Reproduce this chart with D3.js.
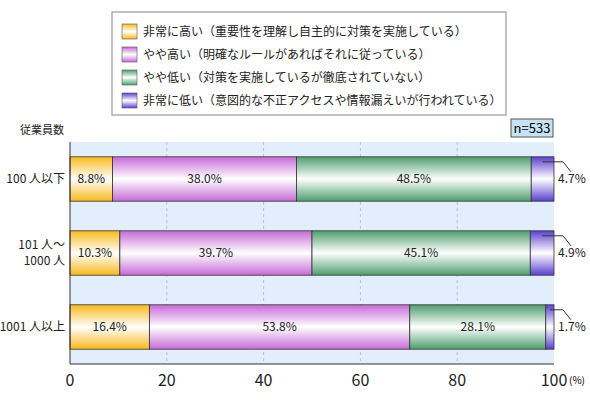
<!DOCTYPE html><html><head><meta charset="utf-8"><script src="https://cdn.jsdelivr.net/npm/d3@7"></script>
<style>body{margin:0;background:#fff}text{font-family:"Noto Sans CJK JP","Noto Sans",sans-serif}</style></head><body><svg id="c" width="590" height="400"></svg><script>
const categories=[["100 人以下"],["101 人～","1000 人"],["1001 人以上"]];
const seriesNames=["非常に高い（重要性を理解し自主的に対策を実施している）","やや高い（明確なルールがあればそれに従っている）","やや低い（対策を実施しているが徹底されていない）","非常に低い（意図的な不正アクセスや情報漏えいが行われている）"];
const s1=[8.8,10.3,16.4],s2=[38.0,39.7,53.8],s3=[48.5,45.1,28.1],s4=[4.7,4.9,1.7];
const ticks=[0,20,40,60,80,100];
const colors=["#f7b91c","#c66ad6","#4f9e6e","#5a3fd0"];
const svg=d3.select("#c");
const defs=svg.append("defs");
colors.forEach((c,i)=>{const g=defs.append("linearGradient").attr("id","g"+i).attr("x1",0).attr("y1",0).attr("x2",0).attr("y2",1);
g.append("stop").attr("offset","0%").attr("stop-color",c);g.append("stop").attr("offset","50%").attr("stop-color","#fff");g.append("stop").attr("offset","100%").attr("stop-color",c);});
const x=d3.scaleLinear().domain([0,100]).range([70,554]);
const y=d3.scaleBand().domain([0,1,2]).range([142,364]).paddingInner(0.4).paddingOuter(0.2);
svg.append("rect").attr("x",70).attr("y",142).attr("width",484).attr("height",222).attr("fill","#e3eefc");
svg.selectAll(".gl").data(ticks.slice(1,5)).join("line").attr("x1",d=>x(d)).attr("x2",d=>x(d)).attr("y1",142).attr("y2",364).attr("stroke","#aab").attr("stroke-dasharray","3,3").attr("stroke-width",0.7);
const series=[s1,s2,s3,s4];
[0,1,2].forEach(r=>{let acc=0;series.forEach((s,i)=>{const v=s[r];
svg.append("rect").attr("x",x(acc)).attr("y",y(r)).attr("width",x(acc+v)-x(acc)).attr("height",y.bandwidth()).attr("fill",`url(#g${i})`).attr("stroke","#333").attr("stroke-width",0.8);
if(i<3)svg.append("text").attr("x",(x(acc)+x(acc+v))/2).attr("y",y(r)+y.bandwidth()/2+4).attr("text-anchor","middle").attr("font-size",12).attr("fill","#222").text(v.toFixed(1)+"%");
else{const yy=y(r)+5;svg.append("polyline").attr("points",`${x(acc+v/2)},${yy} ${x(100)+9},${yy} ${x(100)+17},${yy+10}`).attr("fill","none").attr("stroke","#333");
svg.append("text").attr("x",558).attr("y",y(r)+y.bandwidth()/2+4).attr("font-size",12).attr("fill","#222").text(v.toFixed(1)+"%");}
acc+=v;});
const lines=categories[r];lines.forEach((t,k)=>svg.append("text").attr("x",65).attr("y",y(r)+y.bandwidth()/2+4+(k-(lines.length-1)/2)*16).attr("text-anchor","end").attr("font-size",12).attr("fill","#222").text(t));});
svg.append("line").attr("x1",70).attr("x2",70).attr("y1",142).attr("y2",364).attr("stroke","#333");
svg.append("line").attr("x1",70).attr("x2",554).attr("y1",364).attr("y2",364).attr("stroke","#333");
svg.selectAll(".tk").data(ticks).join("text").attr("x",d=>x(d)).attr("y",386).attr("text-anchor","middle").attr("font-size",16).attr("font-family","Liberation Sans, sans-serif").attr("fill","#222").text(d=>d);
svg.append("text").attr("x",569).attr("y",384).attr("font-size",10).text("(%)");
svg.append("text").attr("x",20).attr("y",134).attr("font-size",11).attr("fill","#222").text("従業員数");
svg.append("rect").attr("x",511).attr("y",119).attr("width",42).attr("height",18).attr("fill","#c6e2f4").attr("stroke","#555");
svg.append("text").attr("x",532).attr("y",133).attr("text-anchor","middle").attr("font-size",13).attr("font-family","Liberation Sans, sans-serif").text("n=533");
svg.append("rect").attr("x",112).attr("y",12).attr("width",394).attr("height",103).attr("fill","#fff").attr("stroke","#999").attr("stroke-width",1.2);
seriesNames.forEach((n,i)=>{const yy=24+i*23;svg.append("rect").attr("x",122).attr("y",yy).attr("width",15).attr("height",15).attr("fill",`url(#g${i})`).attr("stroke","#555").attr("stroke-width",0.6);
svg.append("text").attr("x",143).attr("y",yy+12).attr("font-size",12).attr("fill","#222").text(n);});
</script></body></html>
